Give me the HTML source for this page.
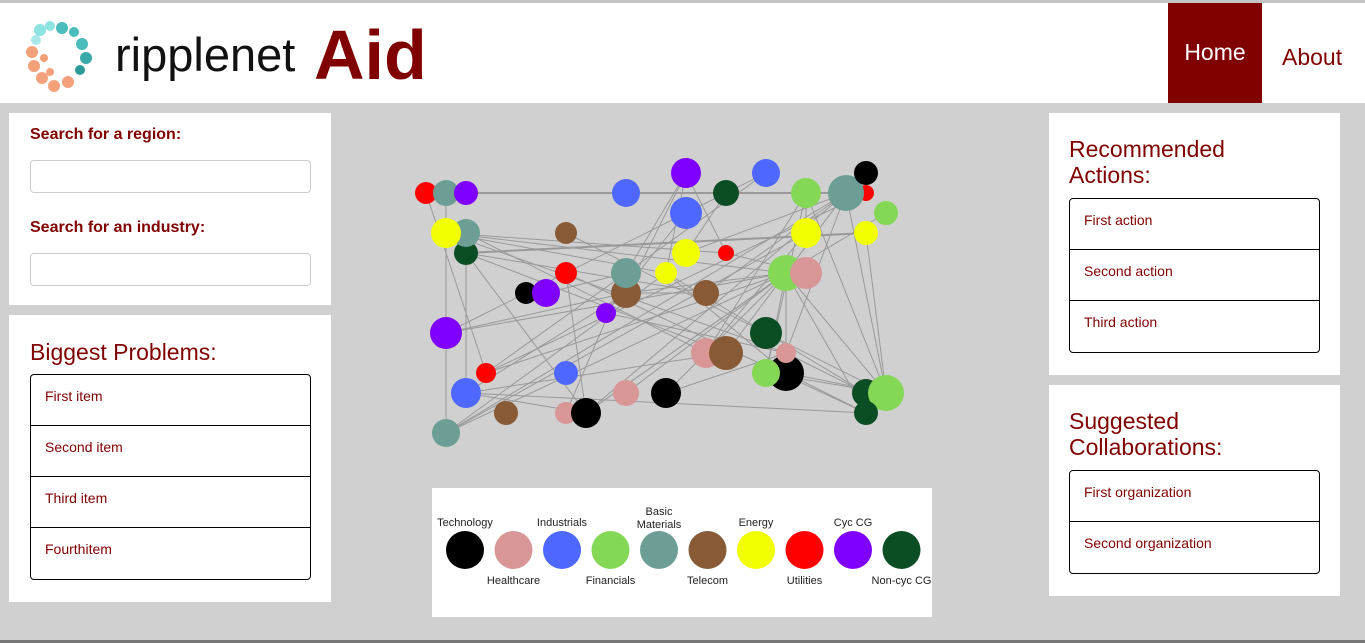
<!DOCTYPE html>
<html><head><meta charset="utf-8">
<style>
*{box-sizing:border-box;margin:0;padding:0}
body{width:1365px;height:643px;background:#d0d0d0;font-family:"Liberation Sans",sans-serif;position:relative;overflow:hidden}
.abs{position:absolute}
.panel{position:absolute;background:#fff}
.lbl{position:absolute;left:21px;font-weight:bold;font-size:16px;color:#800000}
.inp{position:absolute;left:21px;width:281px;height:33px;border:1px solid #ccc;border-radius:4px;background:#fff}
.h{position:absolute;left:21px;font-size:23px;color:#800000;line-height:26px}
.list{position:absolute;left:21px;border:1px solid #000;border-radius:4px;overflow:hidden}
.item{height:51px;border-bottom:1px solid #000;font-size:14px;color:#800000;padding:13px 0 0 14px}
.item:last-child{border-bottom:none}
</style></head><body>
<div class="abs" style="left:0;top:0;width:1365px;height:3px;background:#c4c4c4"></div>
<div class="abs" style="left:0;top:3px;width:1365px;height:100px;background:#fff">
  <svg class="abs" style="left:22px;top:15px" width="80" height="80" viewBox="0 0 80 80">
    <g fill="#8ee3e3"><circle cx="18" cy="12" r="6"/><circle cx="28" cy="8" r="5"/><circle cx="14" cy="22" r="5" fill="#a8e8e8"/></g>
    <g fill="#4bbcbc"><circle cx="40" cy="10" r="6"/><circle cx="52" cy="14" r="5"/><circle cx="60" cy="26" r="6"/><circle cx="64" cy="40" r="6" fill="#3aa8a8"/><circle cx="58" cy="52" r="5" fill="#2e9a9a"/></g>
    <g fill="#f4a07a"><circle cx="10" cy="34" r="6"/><circle cx="12" cy="48" r="6"/><circle cx="20" cy="60" r="6"/><circle cx="32" cy="68" r="6"/><circle cx="46" cy="64" r="6"/><circle cx="22" cy="40" r="4"/><circle cx="28" cy="54" r="4"/></g>
  </svg>
  <div class="abs" style="left:115px;top:24px;font-size:47px;color:#111">ripplenet</div>
  <div class="abs" style="left:314px;top:12px;font-size:70px;font-weight:bold;color:#800000;line-height:80px">Aid</div>
  <div class="abs" style="left:1168px;top:0;width:94px;height:100px;background:#800000;color:#fff;font-size:23px;text-align:center;padding-top:36px">Home</div>
  <div class="abs" style="left:1282px;top:41px;font-size:23px;color:#800000">About</div>
</div>

<div class="panel" style="left:9px;top:113px;width:322px;height:192px">
  <div class="lbl" style="top:13px">Search for a region:</div>
  <div class="inp" style="top:47px"></div>
  <div class="lbl" style="top:106px">Search for an industry:</div>
  <div class="inp" style="top:140px"></div>
</div>
<div class="panel" style="left:9px;top:315px;width:322px;height:287px">
  <div class="h" style="top:24px">Biggest Problems:</div>
  <div class="list" style="top:59px;width:281px">
    <div class="item">First item</div>
    <div class="item">Second item</div>
    <div class="item">Third item</div>
    <div class="item">Fourthitem</div>
  </div>
</div>

<div class="panel" style="left:1049px;top:113px;width:291px;height:262px">
  <div class="h" style="top:23px;left:20px">Recommended<br>Actions:</div>
  <div class="list" style="top:85px;left:20px;width:251px">
    <div class="item">First action</div>
    <div class="item">Second action</div>
    <div class="item">Third action</div>
  </div>
</div>
<div class="panel" style="left:1049px;top:385px;width:291px;height:211px">
  <div class="h" style="top:23px;left:20px">Suggested<br>Collaborations:</div>
  <div class="list" style="top:85px;left:20px;width:251px">
    <div class="item">First organization</div>
    <div class="item">Second organization</div>
  </div>
</div>

<svg class="abs" id="net" style="left:0;top:0" width="1365" height="643"></svg>

<div class="panel" style="left:432px;top:488px;width:500px;height:129px"><svg id="leg" width="500" height="129"></svg></div>
<div class="abs" style="left:0;top:640px;width:1365px;height:3px;background:#777"></div>

<script>
const NS='http://www.w3.org/2000/svg';
const colors={Technology:'#000000',Healthcare:'#d89696',Industrials:'#4e68ff',Financials:'#84d855',BasicMaterials:'#6c9e96',Telecom:'#885a35',Energy:'#f2ff00',Utilities:'#ff0000',CycCG:'#8000ff',NonCycCG:'#0b4d24'};
const nodeX=[426,446,466,626,686,726,766,866,806,866,846,886,686,466,446,466,566,806,866,686,726,566,626,666,786,806,526,546,626,706,606,446,766,486,566,706,726,786,786,766,466,626,666,866,886,866,506,566,586,446];
const nodeY=[193,193,193,193,173,193,173,173,193,193,193,213,213,233,233,253,233,233,233,253,253,273,273,273,273,273,293,293,293,293,313,333,333,373,373,353,353,353,373,373,393,393,393,393,393,413,413,413,413,433];
const nodeR=[11,13,12,14,15,13,14,12,15,8,18,12,16,14,15,12,11,15,12,14,8,11,15,11,18,16,11,14,15,13,10,16,16,10,12,15,17,10,18,14,15,13,15,14,18,12,12,11,15,14];
const nodeInd=['Utilities','BasicMaterials','CycCG','Industrials','CycCG','NonCycCG','Industrials','Technology','Financials','Utilities','BasicMaterials','Financials','Industrials','BasicMaterials','Energy','NonCycCG','Telecom','Energy','Energy','Energy','Utilities','Utilities','BasicMaterials','Energy','Financials','Healthcare','Technology','CycCG','Telecom','Telecom','CycCG','CycCG','NonCycCG','Utilities','Industrials','Healthcare','Telecom','Healthcare','Technology','Financials','Industrials','Healthcare','Technology','NonCycCG','Financials','NonCycCG','Telecom','Healthcare','Technology','BasicMaterials'];
const edgeFrom=[2,15,1,1,0,14,14,14,14,15,15,15,16,27,28,31,31,31,40,40,49,49,42,43,22,22,23,23,28,4,4,5,6,6,10,10,10,10,10,10,8,8,24,24,24,24,24,24,24,38,38,38,37,37,36,44,44,44,33,33,19,17,17,13,13,13,3,12,48,48,48,39,39,29,20,35,21,11,18,2];
const edgeFrom2=[10,18,49,31,33,20,23,37,24,36,29,48,44,22,24,12,24,28,28,45,23,10,37,23,47,4,38,23,4,23,20,19,12,33,29,37,36,24,44,48,10,17,45,48,41,49,39,37,42,44,45,39,43,30,40,43,24,8,24,9,10,35,49,40,13,35,10,30,24,40,21,44,8,28,25,8,45,24,44,9];
const edgeTo=edgeFrom.map((f,i)=>[f,edgeFrom2[i]]);
const svg=document.getElementById('net');
const eg=document.createElementNS(NS,'g');


svg.appendChild(eg);
[[2,10,2],[15,18,2]].concat(edgeTo).forEach(e=>{
  const l=document.createElementNS(NS,'line');
  
  
  l.setAttribute('x1',nodeX[e[0]]);l.setAttribute('y1',nodeY[e[0]]);
  l.setAttribute('x2',nodeX[e[1]]);l.setAttribute('y2',nodeY[e[1]]);
  l.setAttribute('stroke','#999');l.setAttribute('stroke-width',e[2]||1);
  eg.appendChild(l);
});
const drawOrder=[0,1,2,3,4,5,6,9,10,7,8,11,12,15,13,14,16,17,18,19,20,21,28,22,23,24,25,26,27,29,30,31,32,33,34,35,36,38,39,37,40,41,42,43,44,45,46,47,48,49];
drawOrder.forEach(i=>{
  const c=document.createElementNS(NS,'circle');
  
  
  c.setAttribute('cx',nodeX[i]);c.setAttribute('cy',nodeY[i]);c.setAttribute('r',nodeR[i]);
  c.setAttribute('fill',colors[nodeInd[i]]);
  svg.appendChild(c);
});
const legNames=['Technology','Healthcare','Industrials','Financials','Basic|Materials','Telecom','Energy','Utilities','Cyc CG','Non-cyc CG'];
const leg=document.getElementById('leg');
const keys=Object.keys(colors);
legNames.forEach((n,i)=>{
  const cx=33+i*48.5;
  const c=document.createElementNS(NS,'circle');
  
  
  c.setAttribute('cx',cx);c.setAttribute('cy',62);c.setAttribute('r',19);c.setAttribute('fill',colors[keys[i]]);
  leg.appendChild(c);
  const lines=n.split('|');
  lines.forEach((s,j)=>{
    const t=document.createElementNS(NS,'text');
    
    
    t.setAttribute('x',cx);
    const y=i%2===0?(lines.length>1?27+j*13:38):96;
    t.setAttribute('y',y);
    t.setAttribute('text-anchor','middle');
    t.setAttribute('font-size','11');
    t.setAttribute('font-family','Liberation Sans, sans-serif');
    t.setAttribute('fill','#222');
    t.textContent=s;
    leg.appendChild(t);
  });
});
</script>
</body></html>
